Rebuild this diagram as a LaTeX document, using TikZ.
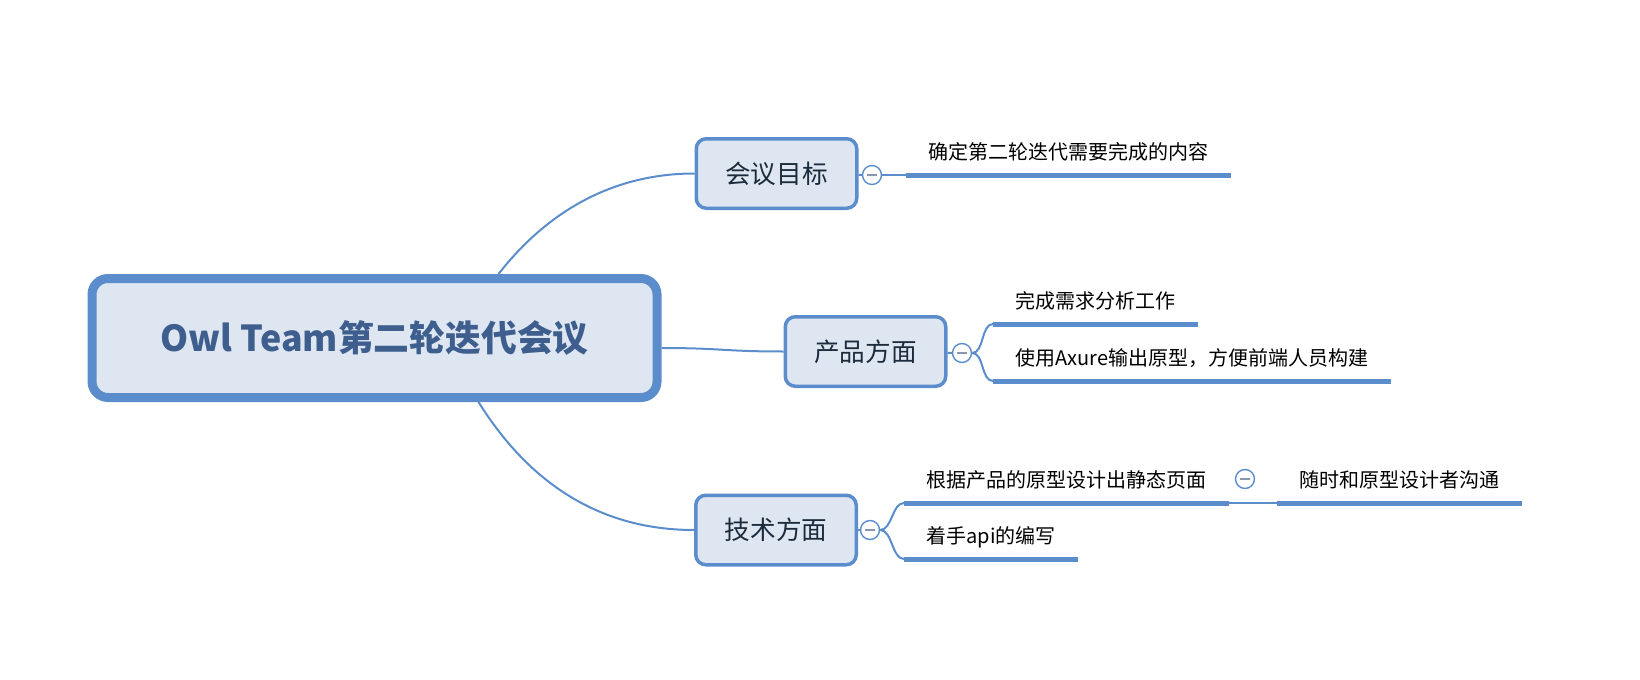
\documentclass[tikz,border=0pt]{standalone}
\usepackage{fontspec}
\setmainfont{Noto Sans CJK SC}
\usepackage{tikz}
\usetikzlibrary{positioning}
\definecolor{ink}{HTML}{5B8DCC}
\definecolor{wash}{HTML}{DEE6F1}
\definecolor{title}{HTML}{3E5F8E}
\definecolor{topictext}{HTML}{1C2B3B}
\definecolor{foldmark}{HTML}{8797B4}

\begin{document}
\begin{tikzpicture}[x=0.5pt,y=-0.5pt,
 root/.style={draw=ink,line width=4.5pt,rounded corners=8pt,fill=wash,
 minimum width=282.5pt,minimum height=59.5pt,
 font=\bfseries\fontsize{17.9}{21}\selectfont,text=title},
 topic/.style={draw=ink,line width=1.75pt,rounded corners=5pt,fill=wash,
 minimum width=80.25pt,minimum height=34.75pt,
 font=\fontsize{12.8}{15}\selectfont,text=topictext},
 leaf/.style={anchor=south west,inner xsep=11pt,inner ysep=7.5pt,text depth=0pt,
 font=\fontsize{10}{12}\selectfont},
 fold/.style={circle,draw=ink,fill=white,line width=0.7pt,minimum size=9.5pt,inner sep=0pt},
 foldbar/.style={draw=foldmark,line width=1pt},
 link/.style={draw=ink,line width=1pt},
 bar/.style={draw=ink,line width=2.5pt}]
\useasboundingbox (0,0) rectangle (1640,680);

% central topic and the three branches
\node[root] (meet) at (374.5,338) {Owl Team第二轮迭代会议};
\node[topic] (aim) at (776.5,173.5) {会议目标};
\node[topic] (prod) at (865.5,351.5) {产品方面};
\node[topic] (tech) at (776,530) {技术方面};

\node[fold] (f1) at (872,175) {};
\node[fold] (f2) at (962,353) {};
\node[fold] (f3) at (870,530) {};
\node[fold] (f4) at (1245,479) {};

% leaves, each sitting on its bar
\node[leaf] (goal) at (906,175) {确定第二轮迭代需要完成的内容};
\node[leaf] (need) at (993,324) {完成需求分析工作};
\node[leaf] (axure) at (993,381) {使用Axure输出原型，方便前端人员构建};
\node[leaf] (page) at (904,503) {根据产品的原型设计出静态页面};
\node[leaf] (api) at (904,559) {着手api的编写};
\node[leaf] (talk) at (1277,503) {随时和原型设计者沟通};

\foreach \n in {goal,need,axure,page,api,talk}
 \draw[bar] (\n.south west) -- (\n.south east);
\foreach \f in {f1,f2,f3,f4}
 \draw[foldbar] ([xshift=-2.5pt]\f.center) -- ([xshift=2.5pt]\f.center);

\draw[link] ([xshift=62pt]meet.north) .. controls +(50,-64) and +(-80,0) .. (aim.west);
\draw[link] ([yshift=-5pt]meet.east) .. controls +(60,0) and +(-60,0) .. (prod.west);
\draw[link] ([xshift=52pt]meet.south) .. controls +(40,64) and +(-110,0) .. (tech.west);

\draw[link] (aim) -- (f1);
\draw[link] (prod) -- (f2);
\draw[link] (tech) -- (f3);
\draw[link] (f1) -- (goal.south west);
\draw[link] (f2.east) .. controls +(12,0) and +(-12,0) .. (need.south west);
\draw[link] (f2.east) .. controls +(12,0) and +(-12,0) .. (axure.south west);
\draw[link] (f3.east) .. controls +(12,0) and +(-12,0) .. (page.south west);
\draw[link] (f3.east) .. controls +(12,0) and +(-12,0) .. (api.south west);
\draw[link] (page.south east) -- (talk.south west);
\end{tikzpicture}
\end{document}
